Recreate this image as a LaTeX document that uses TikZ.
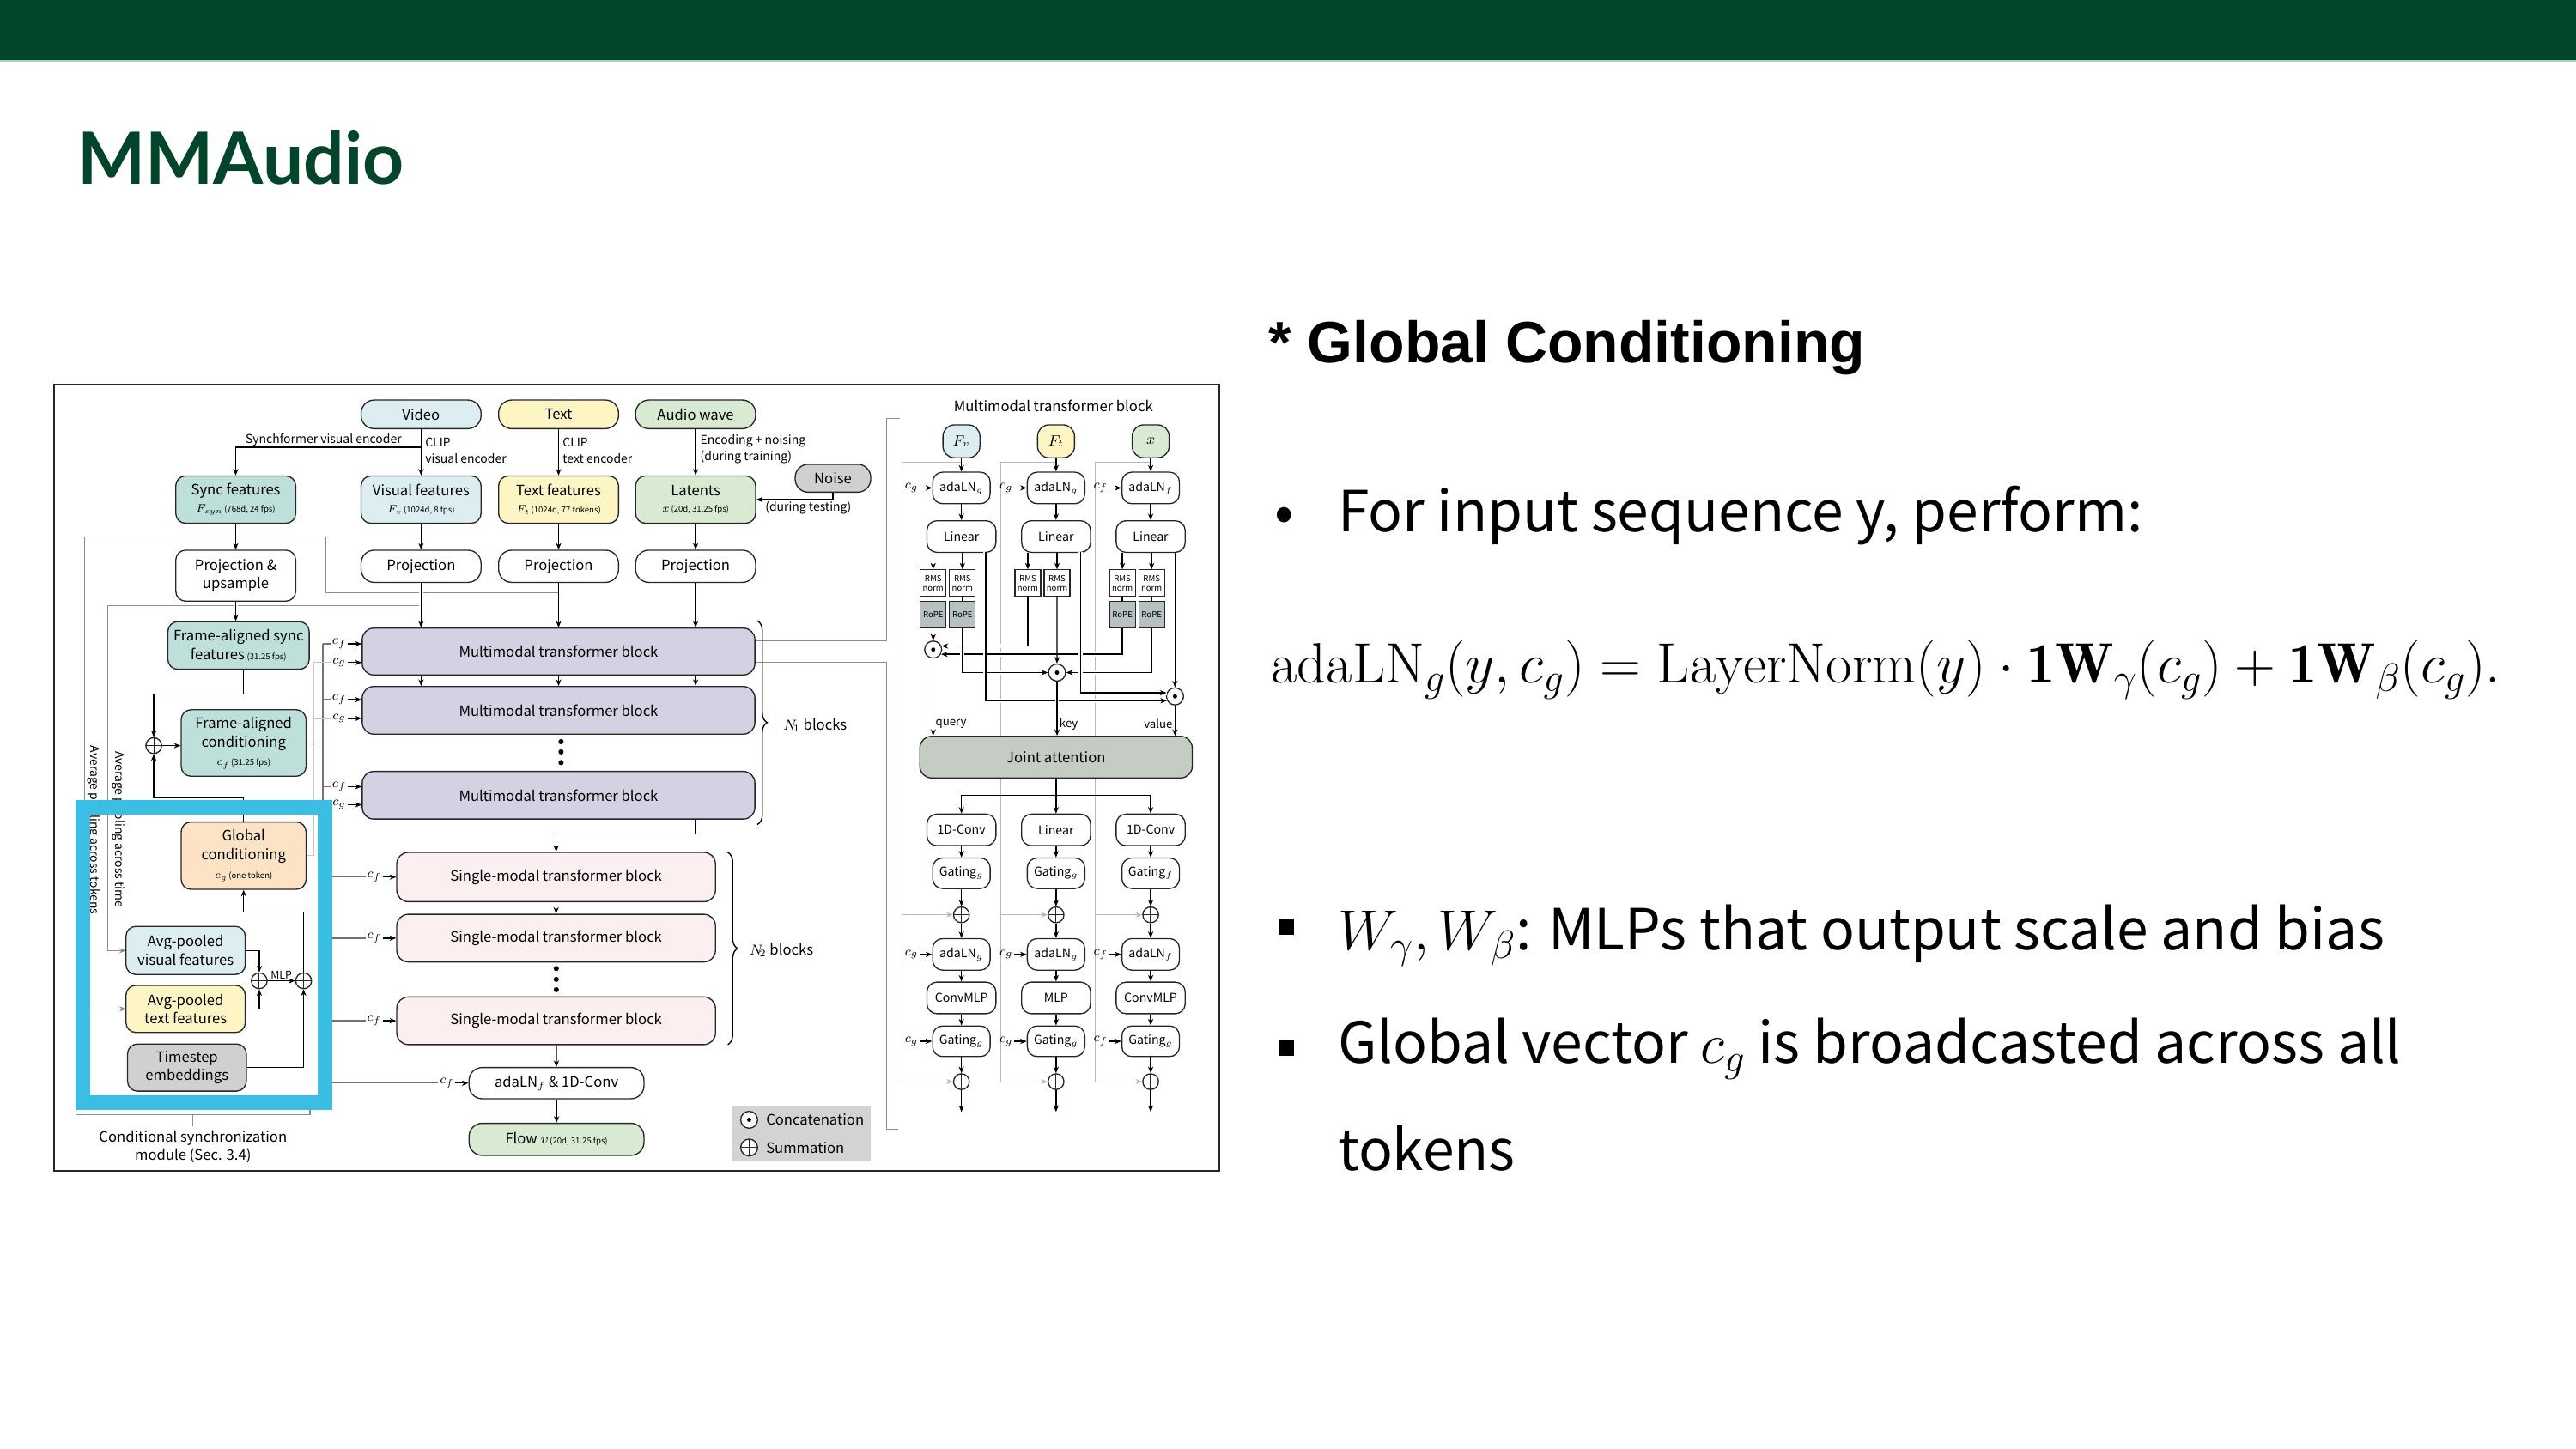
\RequirePackage{fix-cm}
\documentclass[tikz,border=0pt]{standalone}
\usepackage{amsmath}
\usepackage{fontspec}
\newfontfamily\diagfont{Noto Sans CJK KR}
\newfontfamily\headfont{Liberation Sans}
\newfontfamily\titlefont{Lato}
\usetikzlibrary{arrows.meta, positioning, calc, backgrounds, decorations.pathreplacing}
\newcommand{\setfs}[2]{\fontsize{#1}{#2}\selectfont}
\newcommand{\featsub}[2]{{\setfs{6.6}{8}$#1$}{\setfs{5}{7}\,#2}}

\definecolor{slidegreen}{HTML}{03452A}
\definecolor{barline}{HTML}{A9CFC4}
\definecolor{cvis}{HTML}{DDEEF2}
\definecolor{ctxt}{HTML}{FDF6C4}
\definecolor{caud}{HTML}{D8EAD2}
\definecolor{cteal}{HTML}{BDE0DB}
\definecolor{cmm}{HTML}{D4D2E2}
\definecolor{csm}{HTML}{FCEFEF}
\definecolor{cpeach}{HTML}{FDE3C5}
\definecolor{cgrey}{HTML}{CFD0CF}
\definecolor{clegend}{HTML}{D2D3D2}
\definecolor{crope}{HTML}{B8C1C2}
\definecolor{cjoint}{HTML}{C4CCC3}
\definecolor{ccyan}{HTML}{3BBEE3}

\begin{document}
\begin{tikzpicture}[
		x=1pt, y=-1pt,
		>={Stealth[length=4pt, width=3.2pt]},
		line width=0.7pt,
		box/.style={draw=black!85, line width=0.7pt, rounded corners=6pt, inner sep=0pt, align=center, font=\diagfont\setfs{8.7}{11.3}},
		pill/.style={box, rounded corners=8pt},
		mmbox/.style={box, fill=cmm, minimum width=239, rounded corners=7pt},
		smbox/.style={box, fill=csm, minimum width=194, rounded corners=7pt},
		dbox/.style={box, font=\diagfont\setfs{7.4}{9}, minimum height=19.2, rounded corners=6pt},
		dnarrow/.style={dbox, minimum width=35},
		dwide/.style={dbox, minimum width=42},
		din/.style={box, font=\setfs{9}{10}, minimum width=22.5, minimum height=20, rounded corners=7pt},
		rmsbox/.style={draw=black!85, line width=0.6pt, inner sep=0pt, minimum width=15.7, minimum height=16, align=center, font=\diagfont\setfs{5}{5.8}},
		ropebox/.style={rmsbox, fill=crope, minimum height=15.8},
		sumop/.style={circle, draw=black!85, line width=0.7pt, fill=white, minimum size=9.6, inner sep=0pt,
			path picture={\draw[black!85, line width=0.6pt] (path picture bounding box.north) -- (path picture bounding box.south) (path picture bounding box.west) -- (path picture bounding box.east);}},
		catop/.style={circle, draw=black!85, line width=0.7pt, fill=white, minimum size=10.4, inner sep=0pt,
			path picture={\fill[black] (path picture bounding box.center) circle (1.3pt);}},
		lbl/.style={font=\diagfont\setfs{7.3}{10}, inner sep=0pt, align=left},
		clab/.style={font=\setfs{8}{9}, inner sep=0.6pt},
		cfline/.style={draw=black!55},
		cgline/.style={draw=black!22},
		avgline/.style={draw=black!45},
		resid/.style={draw=black!28, -{Stealth[length=4pt, width=3.2pt]}},
		link/.style={draw=black!45},
		bridge/.style={preaction={draw=white, line width=2.6pt, arrows=-}},
		nbrace/.style={decorate, decoration={brace, amplitude=6pt}, line width=0.7pt},
		bodytext/.style={anchor=base west, inner sep=0pt, font=\diagfont\setfs{34.5}{40}}
		]
		\useasboundingbox (0,0) rectangle (1568,882);
		
		% ==========================================
		% Slide frame: bar, title and notes
		% ==========================================
		\fill[slidegreen] (0,0) rectangle (1568,36.6);
		\fill[barline] (0,36.6) rectangle (1568,37.6);
		\node[anchor=base west, inner sep=0pt, font=\titlefont\bfseries\setfs{43.8}{48}, text=slidegreen] (title) at (47,112) {MMAudio};
		
		\node[anchor=base west, inner sep=0pt, font=\headfont\bfseries\setfs{35.5}{40}] (heading) at (772,221) {* Global Conditioning};
		\node[anchor=base, inner sep=0pt, font=\diagfont\setfs{34.5}{40}] (dot1) at (781.5,324) {\textbullet};
		\node[bodytext] (perform) at (814,324) {For input sequence y, perform:};
		\node[anchor=base west, inner sep=0pt, font=\setfs{34.6}{40}] (adaeq) at (773.4,415.6)
		{$\mathrm{adaLN}_g(y, c_g) = \mathrm{LayerNorm}(y) \cdot \mathbf{1W}_{\gamma}(c_g) + \mathbf{1W}_{\beta}(c_g).$};
		\node[fill=black, minimum width=9, minimum height=9.5, inner sep=0pt] (sq1) at (782.9,564.2) {};
		\node[bodytext] (mlps) at (814,578.2) {$W_\gamma, W_\beta$: MLPs that output scale and bias};
		\node[fill=black, minimum width=9, minimum height=9.5, inner sep=0pt] (sq2) at (782.9,638.2) {};
		\node[bodytext] (bcast) at (814,647.2) {Global vector $c_g$ is broadcasted across all};
		\node[bodytext] (tokens) at (814,712.7) {tokens};
		
		% ==========================================
		% Architecture figure
		% ==========================================
		\draw[black!85, line width=0.9pt] (33,234) rectangle (742,713);
		
		% inputs
		\node[pill, fill=cvis, minimum width=73, minimum height=17.4] (video) at (256.3,252.3) {Video};
		\node[pill, fill=ctxt, minimum width=73, minimum height=17.4] (text) at (340,252.3) {Text};
		\node[pill, fill=caud, minimum width=73, minimum height=17.4] (audio) at (423.4,252.3) {Audio wave};
		\node[pill, fill=cgrey, minimum width=46, minimum height=17] (noise) at (507,291.2) {Noise};
		
		% features
		\node[box, fill=cteal, minimum width=73, minimum height=28.8] (syncf) at (143.5,304.2) {Sync features\\[-1pt]\featsub{F_{syn}}{(768d, 24 fps)}};
		\node[box, fill=cvis, minimum width=73, minimum height=28.8] (visf) at (256.3,304.2) {Visual features\\[-1pt]\featsub{F_v}{(1024d, 8 fps)}};
		\node[box, fill=ctxt, minimum width=73, minimum height=28.8] (txtf) at (340,304.2) {Text features\\[-1pt]\featsub{F_t}{(1024d, 77 tokens)}};
		\node[box, fill=caud, minimum width=73, minimum height=28.8] (lat) at (423.4,304.2) {Latents\\[-1pt]\featsub{x}{(20d, 31.25 fps)}};
		
		\node[lbl, anchor=base] (synchl) at (197,269.8) {Synchformer visual encoder};
		\node[lbl, anchor=west] (clipv) at (258.5,274.2) {CLIP\\visual encoder};
		\node[lbl, anchor=west] (clipt) at (342.2,274.2) {CLIP\\text encoder};
		\node[lbl, anchor=west] (encl) at (426,273.6) {Encoding + noising\\(during training)};
		\node[lbl, anchor=west] (testl) at (465.5,309.3) {(during testing)};
		
		\draw[->] (video.south) -- (visf.north);
		\draw[->] (video.south |- 0,272.3) -| (syncf.north);
		\draw[->] (text.south) -- (txtf.north);
		\draw[->] (audio.south) -- (lat.north);
		\draw[->] (noise.south) |- (lat.east);
		
		% projections
		\node[box, minimum width=73, minimum height=31] (projup) at (143.5,350.5) {Projection \&\\upsample};
		\node[pill, minimum width=73, minimum height=19.6] (projv) at (256.3,344.8) {Projection};
		\node[pill, minimum width=73, minimum height=19.6] (projt) at (340,344.8) {Projection};
		\node[pill, minimum width=73, minimum height=19.6] (proja) at (423.4,344.8) {Projection};
		\draw[->] (visf) -- (projv);
		\draw[->] (txtf) -- (projt);
		\draw[->] (lat) -- (proja);
		
		% multimodal blocks
		\node[mmbox, minimum height=28.5] (mm1) at (340,396.7) {Multimodal transformer block};
		\node[mmbox, minimum height=29] (mm2) at (340,432.5) {Multimodal transformer block};
		\node[mmbox, minimum height=29] (mm3) at (340,484.2) {Multimodal transformer block};
		
		% pooling paths to the conditioning module
		\begin{scope}[on background layer]
			\draw[avgline, ->] (projt.south |- 0,361) -- (198.4,361) -- (198.4,327) -- (51.5,327) -- (51.5,614.3) -- (76.7,614.3);
			\draw[avgline, ->] (projv.south |- 0,368.5) -- (65.5,368.5) -- (65.5,578.7) -- (76.7,578.7);
			\draw[link] (mm1.east |- 0,390) -- (539.5,390) -- (539.5,254.8) -- (547.5,254.8);
			\draw[link] (mm1.east |- 0,403) -- (539.5,403) -- (539.5,687.3) -- (546.5,687.3);
		\end{scope}
		\node[lbl, rotate=-90] (pooltok) at (57,505.5) {Average pooling across tokens};
		\node[lbl, rotate=-90] (pooltime) at (72.5,505) {Average pooling across time};
		
		\draw[->, bridge] (syncf) -- (projup);
		
		% frame-aligned conditioning
		\node[box, fill=cteal, minimum width=86, minimum height=29] (fasync) at (145.2,393) {Frame-aligned sync\\features\,{\setfs{5}{7}(31.25 fps)}};
		\node[box, fill=cteal, minimum width=76, minimum height=40.5] (fcond) at (148.3,452.4) {Frame-aligned\\conditioning\\\featsub{c_f}{(31.25 fps)}};
		\node[sumop] (sfa) at (93.6,454) {};
		\draw[->, bridge] (projup.south) -- (projup.south |- fasync.north);
		\draw[->] (fasync.south -| fcond.north) -- ++(0,14.8) -| (sfa.north);
		\draw[->] (sfa.east) -- (fcond.west |- sfa.east);
		
		\draw[->, bridge] (projv.south) -- (mm1.north -| projv);
		\draw[->] (projt.south) -- (mm1.north -| projt);
		\draw[->] (proja.south) -- (mm1.north -| proja);
		\foreach \p in {projv, projt, proja} {
			\draw[->] (mm1.south -| \p) -- (mm2.north -| \p);
		}
		\foreach \yy in {451.6, 457.8, 464.3} {
			\fill (341.5,\yy) circle (1.6pt);
		}
		\draw[nbrace] (461,378) -- (461,502);
		\node[lbl, anchor=west] (n1) at (476.5,441.7) {\setfs{8.7}{10}$N_{\!1}$ blocks};
		
		% single-modal blocks
		\node[smbox, minimum height=30] (sm1) at (338.5,534) {Single-modal transformer block};
		\node[smbox, minimum height=29] (sm2) at (338.5,571.2) {Single-modal transformer block};
		\node[smbox, minimum height=29] (sm3) at (338.5,621.5) {Single-modal transformer block};
		\draw[->] (mm3.south -| proja) -- ++(0,8.7) -| (sm1.north);
		\draw[->] (sm1) -- (sm2);
		\foreach \yy in {589.7, 596.3, 602.6} {
			\fill (338.6,\yy) circle (1.6pt);
		}
		\draw[nbrace] (443,519) -- (443,636);
		\node[lbl, anchor=west] (n2) at (456,578.5) {\setfs{8.7}{10}$N_{\!2}$ blocks};
		
		% output head
		\node[pill, minimum width=106.5, minimum height=19] (adaln) at (338.75,659.5) {adaLN$_f$ \& 1D-Conv};
		\node[pill, fill=caud, minimum width=106.5, minimum height=19.5] (flow) at (338.75,693.7) {Flow {$v$}{\setfs{5}{7}\,(20d, 31.25 fps)}};
		\draw[->] (sm3) -- (adaln);
		\draw[->] (adaln) -- (flow);
		
		% legend
		\fill[clegend] (446,673) rectangle (530,707);
		\node[catop, minimum size=10.3] (lgcat) at (456,681.8) {};
		\node[lbl, anchor=west, font=\diagfont\setfs{8.7}{10}] (lgcatl) at (466,681.8) {Concatenation};
		\node[sumop, minimum size=10.3] (lgsum) at (456,698.7) {};
		\node[lbl, anchor=west, font=\diagfont\setfs{8.7}{10}] (lgsuml) at (466,698.7) {Summation};
		
		% global conditioning module
		\node[box, fill=cpeach, minimum width=76, minimum height=41] (gcond) at (148.3,521) {Global\\conditioning\\\featsub{c_g}{(one token)}};
		\node[box, fill=cvis, minimum width=72.6, minimum height=29.3] (avgv) at (113,578.7) {Avg-pooled\\visual features};
		\node[box, fill=ctxt, minimum width=72.6, minimum height=28.7] (avgt) at (113,614.3) {Avg-pooled\\text features};
		\node[box, fill=cgrey, minimum width=72.3, minimum height=28.7] (tstep) at (113.8,650) {Timestep\\embeddings};
		\node[sumop] (mlpa) at (157.8,597.2) {};
		\node[sumop] (mlpb) at (184.8,597.2) {};
		\draw[->] (gcond.north) -- ++(0,-14.4) -| (sfa.south);
		\draw[->] (avgv.east) -| (mlpa.north);
		\draw[->] (avgt.east) -| (mlpa.south);
		\draw[->] (mlpa.east) -- (mlpb.west) node[midway, above, inner sep=1pt, font=\diagfont\setfs{6.5}{8}] {MLP};
		\draw[->] (tstep.east) -| (mlpb.south);
		\draw[->] (mlpb.north) -- ++(0,-36.8) -| (gcond.south);
		
		% conditioning inputs
		\draw[cfline] (fcond.east) -- (196.5,452.4);
		\draw[cfline] (196.5,392) -- (196.5,659.5);
		\draw[cgline] (190.9,403.4) |- (gcond.east);
		\foreach \m/\yf/\yg in {1/392/403.4, 2/426/437.4, 3/479/490} {
			\node[clab] (cf\m) at (206.5,\yf) {$c_f$};
			\node[clab] (cg\m) at (206.5,\yg) {$c_g$};
			\draw[cfline] (196.5,\yf) -- (cf\m.west);
			\draw[cgline] (190.9,\yg) -- (cg\m.west);
			\draw[->] (cf\m.east) -- (mm\m.west |- cf\m.east);
			\draw[->] (cg\m.east) -- (mm\m.west |- cg\m.east);
		}
		\foreach \s/\yy in {1/534, 2/571.2, 3/621.5} {
			\node[clab] (cs\s) at (227.7,\yy) {$c_f$};
			\draw[cfline] (196.5,\yy) -- (cs\s.west);
			\draw[->] (cs\s.east) -- (sm\s.west);
		}
		\node[clab] (cad) at (272,659.5) {$c_f$};
		\draw[cfline] (196.5,659.5) -- (cad.west);
		\draw[->] (cad.east) -- (adaln.west);
		
		% module caption
		\draw[black!45] (46.3,673.5) -- (46.3,678.7) -- (188.7,678.7) -- (188.7,673.5);
		\draw[black!45] (117.3,678.7) -- (117.3,685.7);
		\node[lbl, align=center, font=\diagfont\setfs{8.7}{11.4}] (csm) at (117.5,698.3) {Conditional synchronization\\module (Sec. 3.4)};
		
		% highlight
		\draw[ccyan, line width=9pt] (50.5,491.5) rectangle (198,671.5);
		
		% ==========================================
		% Multimodal transformer block (detail)
		% ==========================================
		\node[lbl, font=\diagfont\setfs{8.7}{10}] (dtitle) at (641.2,247.4) {Multimodal transformer block};
		
		\foreach \col/\x/\inp/\fillc/\s in {1/585.2/F_v/cvis/g, 2/642.8/F_t/ctxt/g, 3/700.4/x/caud/f} {
			\node[din, fill=\fillc] (in\col) at (\x,268.7) {$\inp$};
			\node[dnarrow] (lna\col) at (\x,297.1) {adaLN$_\s$};
			\node[dwide] (lin\col) at (\x,326.7) {Linear};
			\node[rmsbox] (rma\col) at (\x-17.2,355) {RMS\\norm};
			\node[rmsbox] (rmb\col) at (\x+0.6,355) {RMS\\norm};
			\coordinate (val\col) at (\x+14.8,336.3);
			\node[clab, anchor=east] (ct\col) at ($(lna\col.west)+(-7.5,0)$) {$c_\s$};
			\draw[->] (in\col) -- (lna\col);
			\draw[->] (ct\col.east) -- (lna\col.west);
			\draw[->] (lna\col) -- (lin\col);
			\draw[->] (lin\col.south -| rma\col) -- (rma\col);
			\draw[->] (lin\col.south -| rmb\col) -- (rmb\col);
		}
		\foreach \col in {1,3} {
			\node[ropebox] (roa\col) at (rma\col |- 0,374.2) {RoPE};
			\node[ropebox] (rob\col) at (rmb\col |- 0,374.2) {RoPE};
			\draw (rma\col) -- (roa\col);
			\draw (rmb\col) -- (rob\col);
		}
		
		\node[catop] (qcat) at (568,395.5) {};
		\node[catop] (kcat) at (643.4,409.5) {};
		\node[catop] (vcat) at (715.2,424) {};
		
		% query
		\draw[->] (roa1) -- (qcat);
		\draw[->, bridge] (rma2.south) |- (qcat.23);
		\draw[->, bridge] (roa3.south) |- (qcat.-31);
		% key
		\draw[->, bridge] (rob1.south) |- (kcat.west);
		\draw[->] (rmb2) -- (kcat);
		\draw[->, bridge] (rob3.south) |- (kcat.east);
		% value
		\draw[->, bridge] (val1) |- (vcat.-152);
		\draw[->, bridge] (val2) |- (vcat.157);
		\draw[->] (val3) -- (vcat);
		
		% lower half of the block
		\foreach \col/\x/\cv/\md/\s in {1/585.2/1D-Conv/ConvMLP/g, 2/642.8/Linear/MLP/g, 3/700.4/1D-Conv/ConvMLP/f} {
			\node[dwide] (conv\col) at (\x,505.3) {\cv};
			\node[dnarrow, minimum height=18.6] (gta\col) at (\x,531.7) {Gating$_\s$};
			\node[sumop] (sa\col) at (\x,557) {};
			\node[dnarrow] (lnb\col) at (\x,581.1) {adaLN$_\s$};
			\node[dwide] (mlp\col) at (\x,607.6) {\md};
			\node[dnarrow, minimum height=18.6] (gtb\col) at (\x,634) {Gating$_g$};
			\node[sumop] (sb\col) at (\x,658.6) {};
			\coordinate (out\col) at (\x,677);
			\node[clab, anchor=east] (cl\col) at ($(lnb\col.west)+(-7.5,0)$) {$c_\s$};
			\node[clab, anchor=east] (cm\col) at ($(gtb\col.west)+(-7.5,0)$) {$c_\s$};
			\draw[->] (cl\col.east) -- (lnb\col.west);
			\draw[->] (cm\col.east) -- (gtb\col.west);
			\draw[->] (conv\col) -- (gta\col);
			\draw[->] (gta\col) -- (sa\col);
			\draw[->] (sa\col) -- (lnb\col);
			\draw[->] (lnb\col) -- (mlp\col);
			\draw[->] (mlp\col) -- (gtb\col);
			\draw[->] (gtb\col) -- (sb\col);
			\draw[->] (sb\col) -- (out\col);
		}
		
		% residual paths
		\begin{scope}[on background layer]
			\foreach \col/\g in {1/549.2, 2/609.2, 3/666.4} {
				\draw[resid] (in\col.south |- 0,281.4) -- (\g,281.4) |- (sb\col.west);
				\draw[resid] (\g,557) -- (sa\col.west);
			}
		\end{scope}
		
		\node[box, fill=cjoint, minimum width=165.8, minimum height=25.3, rounded corners=7pt] (ja) at (642.8,461) {Joint attention};
		\draw[->] (qcat) -- (qcat |- ja.north);
		\draw[->, bridge] (kcat) -- (kcat |- ja.north);
		\draw[->] (vcat) -- (vcat |- ja.north);
		\node[lbl, anchor=west, font=\diagfont\setfs{6.9}{8}] (ql) at ($(qcat |- ja.north)+(1.2,-7)$) {query};
		\node[lbl, anchor=west, font=\diagfont\setfs{6.9}{8}] (kl) at ($(kcat |- ja.north)+(1.2,-7)$) {key};
		\node[lbl, anchor=east, font=\diagfont\setfs{6.9}{8}] (vl) at ($(vcat |- ja.north)+(-1.2,-7)$) {value};
		
		\draw[->] (ja.south) -- (conv2.north);
		\draw[->] (ja.south |- 0,484.4) -| (conv1.north);
		\draw[->] (ja.south |- 0,484.4) -| (conv3.north);
		
	\end{tikzpicture}
\end{document}
